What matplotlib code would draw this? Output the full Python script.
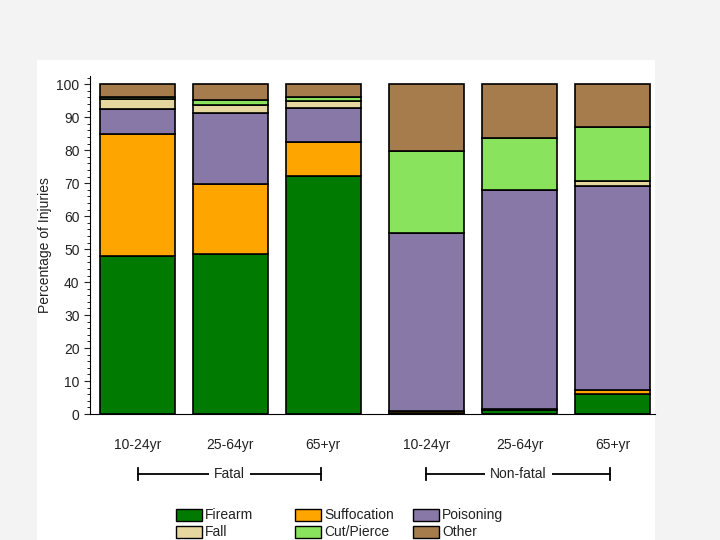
import matplotlib
matplotlib.use('Agg')
import matplotlib.pyplot as plt
import matplotlib.patches as patches
from matplotlib.ticker import MultipleLocator

plt.rcParams['font.family'] = ['Liberation Sans', 'DejaVu Sans']

# Data (percent of injuries, bottom to top of each bar)
groups = ['10-24yr', '25-64yr', '65+yr', '10-24yr', '25-64yr', '65+yr']
firearm = [48.0, 48.5, 72.1, 0.2, 1.2, 6.0]
suffocation = [36.8, 21.4, 10.5, 0.8, 0.2, 1.2]
poisoning = [7.8, 21.5, 10.3, 53.9, 66.5, 62.0]
fall = [2.8, 2.2, 2.0, 0.0, 0.1, 1.5]
cut_pierce = [0.6, 1.5, 1.2, 24.8, 15.8, 16.2]
other = [4.0, 4.9, 3.9, 20.3, 16.2, 13.1]

series = [('Firearm', firearm, '#007a00'),
          ('Suffocation', suffocation, '#ffa500'),
          ('Poisoning', poisoning, '#8878a8'),
          ('Fall', fall, '#e6d6a0'),
          ('Cut/Pierce', cut_pierce, '#8ae35c'),
          ('Other', other, '#a67c4c')]

positions = [0, 1, 2, 3.113, 4.113, 5.113]

fig = plt.figure(figsize=(7.2, 5.4), dpi=100)
fig.patch.set_facecolor('#f3f3f3')

# white panel behind the chart
panel = patches.Rectangle((37 / 720, 0), (655 - 37) / 720, 480 / 540,
                          transform=fig.transFigure, facecolor='white',
                          edgecolor='none', zorder=-10)
fig.patches.append(panel)

ax = fig.add_axes([90 / 720, 126 / 540, 565 / 720, 338 / 540])
ax.set_facecolor('white')

bottom = [0.0] * len(groups)
colors = {}
for name, vals, color in series:
    ax.bar(positions, vals, width=0.806, bottom=bottom, color=color,
           edgecolor='black', linewidth=1.2, label=name)
    colors[name] = color
    bottom = [b + v for b, v in zip(bottom, vals)]

ax.set_xlim(-0.511, 5.57)
ax.set_ylim(0, 102.5)
ax.yaxis.set_major_locator(MultipleLocator(10))
ax.yaxis.set_minor_locator(MultipleLocator(2))
ax.set_xticks(positions)
ax.set_xticklabels(groups)
ax.tick_params(axis='x', length=0, pad=17, labelsize=10, colors='#222222')
ax.tick_params(axis='y', which='major', length=4, labelsize=10, colors='#222222')
ax.tick_params(axis='y', which='minor', length=2)
for s in ['top', 'right']:
    ax.spines[s].set_visible(False)
ax.set_ylabel('Percentage of Injuries', fontsize=10, color='#222222')
ax.yaxis.set_label_coords(-0.068, 0.5)

# group brackets below the axis
tr = matplotlib.transforms.blended_transform_factory(ax.transData, fig.dpi_scale_trans)

def bracket(x0, x1, label):
    yi = 0.66
    ax.plot([x0, x1], [yi, yi], color='black', lw=1.3, transform=tr, clip_on=False)
    for xx in (x0, x1):
        ax.plot([xx, xx], [yi - 0.06, yi + 0.06], color='black', lw=1.3,
                transform=tr, clip_on=False)
    ax.text((x0 + x1) / 2, yi, label, transform=tr, ha='center', va='center',
            fontsize=10, color='#222222',
            bbox=dict(facecolor='white', edgecolor='none', pad=3.5))

bracket(0.005, 1.98, 'Fatal')
bracket(3.11, 5.09, 'Non-fatal')

# legend, laid out in figure pixels like the original
legend_rows = [['Firearm', 'Suffocation', 'Poisoning'],
               ['Fall', 'Cut/Pierce', 'Other']]
col_x = [176, 295, 413]
row_y = [515, 532]
for r, row in enumerate(legend_rows):
    for c, name in enumerate(row):
        x = col_x[c] / 720
        y = (540 - row_y[r]) / 540
        sw = patches.Rectangle((x, y - 6 / 540), 26 / 720, 12 / 540,
                               transform=fig.transFigure, facecolor=colors[name],
                               edgecolor='black', linewidth=1.0)
        fig.patches.append(sw)
        fig.text(x + 29 / 720, y, name, ha='left', va='center', fontsize=10,
                 color='#222222')

plt.savefig('out.png', dpi=100)
plt.close()
